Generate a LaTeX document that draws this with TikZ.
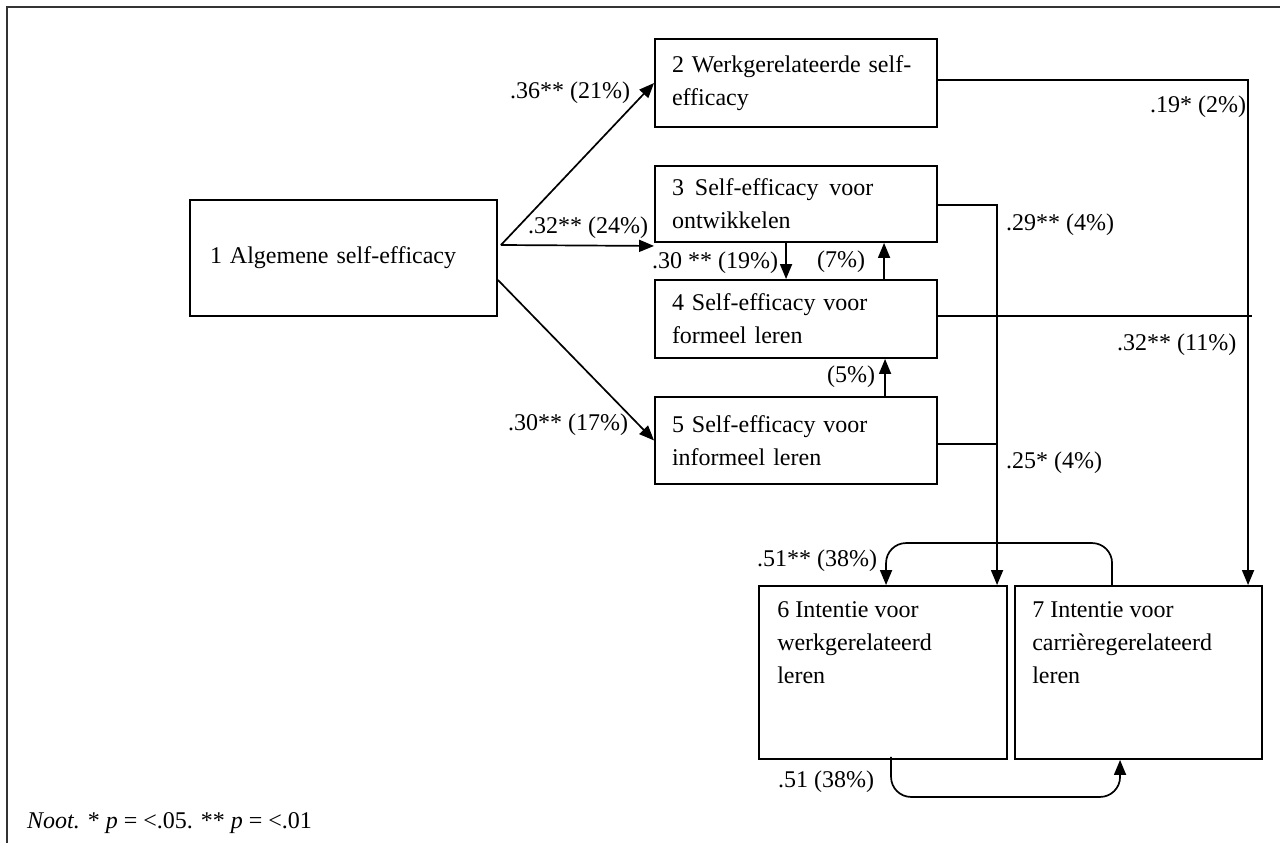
\documentclass[tikz,border=0pt]{standalone}
\usepackage{fontspec}
\setmainfont{Liberation Serif}
\usetikzlibrary{arrows.meta,calc}
\begin{document}
\begin{tikzpicture}[x=1pt,y=-1pt,
  every node/.style={font=\fontsize{24}{33}\selectfont, inner sep=0pt},
  box/.style={draw, line width=1.9pt, align=left, inner xsep=17pt},
  lbl/.style={anchor=west},
  txt/.style={anchor=north west, align=left},
  ln/.style={line width=1.7pt},
  arr/.style={line width=1.7pt, -{Triangle[length=15pt,width=12pt]}},
]
\useasboundingbox (0,0) rectangle (1280,843);
\draw[line width=1.8pt, black!80] (7,843) -- (7,7) -- (1280,7);

% boxes
\node[box, minimum width=307pt, minimum height=116pt, text width=267pt, inner xsep=20pt] (b1) at (343.5,258) {1~Algemene~self-efficacy};
\node[box, minimum width=282pt, minimum height=88pt, text width=248pt] (b2) at (796,83) {2~Werkgerelateerde~self-\\efficacy};
\node[box, minimum width=282pt, minimum height=76pt, text width=248pt] (b3) at (796,204) {3\hspace{11pt}Self-efficacy\hspace{11pt}voor\\ontwikkelen};
\node[box, minimum width=282pt, minimum height=78pt, text width=248pt] (b4) at (796,319) {4~Self-efficacy~voor\\formeel~leren};
\node[box, minimum width=282pt, minimum height=87pt, text width=248pt] (b5) at (796,440.5) {5~Self-efficacy~voor\\informeel~leren};
\node[draw, line width=1.9pt, minimum width=248pt, minimum height=173pt] (b6) at (883,672.5) {};
\node[draw, line width=1.9pt, minimum width=247pt, minimum height=173pt] (b7) at (1138.5,672.5) {};
\node[txt] (t6) at ($(b6.north west)+(19,16)$) {6 Intentie voor\\werkgerelateerd\\leren};
\node[txt] (t7) at ($(b7.north west)+(18,16)$) {7 Intentie voor\\carrièregerelateerd\\leren};

% connectors from 1
\draw[arr] ($(b1.east)+(3,-13)$) -- (b2.west);
\draw[arr] ($(b1.east)+(3,-13)$) -- ($(b3.south west)+(0,3)$);
\draw[arr] ($(b1.east)+(0,22)$) -- (b5.west);

% between 3,4,5
\draw[arr] ($(b3.south west)+(132,0)$) -- ($(b4.north west)+(132,0)$);
\draw[arr] ($(b4.north west)+(230,0)$) -- ($(b3.south west)+(230,0)$);
\draw[arr] ($(b5.north west)+(231,0)$) -- ($(b4.south west)+(231,0)$);

% to 6 and 7
\draw[arr] ($(b2.east)+(0,-3)$) -| ($(b7.north west)+(234,0)$);
\draw[arr] ($(b3.east)+(0,1)$) -| ($(b6.north west)+(239,0)$);
\coordinate (e4) at (1252,316);
\draw[ln] ($(b4.east)+(0,-3)$) -- (e4);
\coordinate (e5) at (998,444);
\draw[ln] ($(b5.east)+(0,3.5)$) -- (e5);

% between 6 and 7
\draw[arr, rounded corners=20pt] ($(b7.north west)+(98,0)$) -- ++(0,-42) -| ($(b6.north west)+(128,0)$);
\draw[arr, rounded corners=20pt] ($(b6.south west)+(133,-3)$) -- ++(0,40) -| ($(b7.south west)+(106,0)$);

% labels
\node[lbl] (l12) at (510,93) {.36** (21\%)};
\node[lbl] (l13) at (528,228) {.32** (24\%)};
\node[lbl] (l34) at (652,263) {.30 ** (19\%)};
\node[lbl] (l43) at (817,262) {(7\%)};
\node[lbl] (l54) at (827,377) {(5\%)};
\node[lbl] (l15) at (508,425) {.30** (17\%)};
\node[lbl] (l27) at (1150,107) {.19* (2\%)};
\node[lbl] (l36) at (1006,225) {.29** (4\%)};
\node[lbl] (l47) at (1117,345) {.32** (11\%)};
\node[lbl] (l56) at (1006,463) {.25* (4\%)};
\node[lbl] (l67) at (757,561) {.51** (38\%)};
\node[lbl] (l76) at (778,782) {.51 (38\%)};
\node[lbl] (noot) at (27,823) {\textit{Noot.} * \textit{p} = <.05. ** \textit{p} = <.01};
\end{tikzpicture}
\end{document}
